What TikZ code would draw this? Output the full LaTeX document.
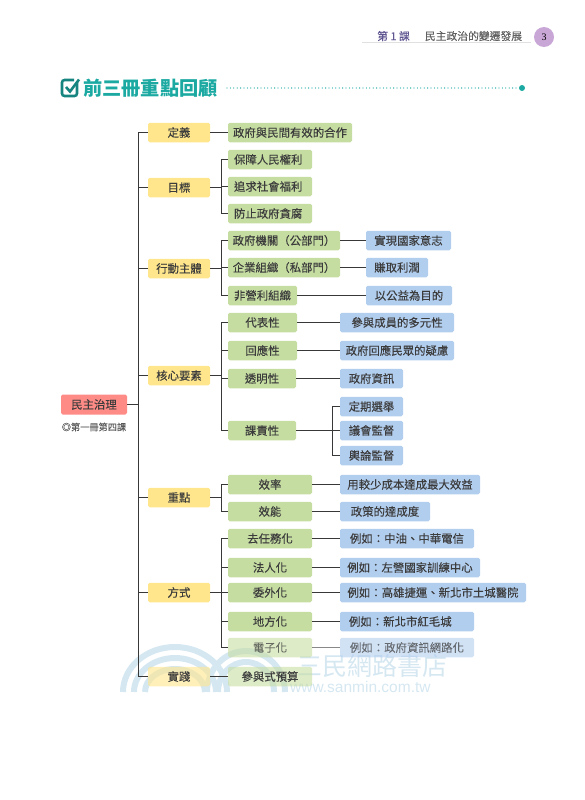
\documentclass[tikz,border=0pt]{standalone}
\usepackage{fontspec}
\setmainfont{Noto Sans CJK TC}[FakeBold=0.12]
\newfontfamily\plainface{Noto Sans CJK TC}
\definecolor{ye}{HTML}{FFE68C}
\definecolor{gr}{HTML}{C6DDA2}
\definecolor{bl}{HTML}{B2CEEF}
\definecolor{re}{HTML}{FF8B87}
\definecolor{ink}{HTML}{3C3C3C}
\definecolor{teal1}{HTML}{1BA9A2}
\definecolor{teal2}{HTML}{17857F}
\definecolor{wm}{HTML}{D5E7F1}
\definecolor{hdp}{HTML}{5F5590}
\definecolor{pgc}{HTML}{C8A6D6}
\tikzset{
  x=1pt,y=-1pt,
  bx/.style={inner sep=0pt,minimum height=19.5pt,rounded corners=1.6pt,text=ink,font=\fontsize{11.4}{13}\selectfont},
  yb/.style={bx,fill=ye,minimum width=62pt},
  gb/.style={bx,fill=gr},
  bb/.style={bx,fill=bl},
  ln/.style={draw=black!78,line width=1.4pt},
  faded/.style={fill opacity=.6,text opacity=.65},
  veil/.style={fill opacity=.6,text opacity=1}
}
\begin{document}
\begin{tikzpicture}
\useasboundingbox (0,0) rectangle (584,800);
% header
\node[font=\fontsize{10.8}{12}\selectfont,text=hdp] (ke) at (393.5,36) {第 1 課};
\node[font=\fontsize{10.8}{12}\selectfont,text=black!62] (kt) at (473.5,36) {民主政治的變遷發展};
\coordinate (hl) at (362,42.5); \coordinate (hr) at (531,42.5);
\draw[black!12,line width=.6pt] (hl)--(hr);
\node[circle,fill=pgc,minimum size=20pt,inner sep=0pt,font=\fontsize{10}{12}\selectfont] (pg) at (544,37) {\fontspec{Liberation Serif}3};
% title
\node[anchor=west,inner sep=0pt,text=teal1,font=\plainface\fontsize{19.2}{22}\bfseries\selectfont] (ttl) at (83,88) {前三冊重點回顧};
\draw[teal2,line width=2.6pt,rounded corners=2.5pt] (77,82) -- (77,96) -- (62,96) -- (62,80) -- (74,80);
\draw[teal2,line width=2.6pt] (66,87) -- (70,91.5) -- (79,79.5);
\coordinate (ds) at (227,88);
\node[circle,fill=teal1,minimum size=6pt,inner sep=0pt] (de) at (522,88) {};
\draw[teal1,line width=1.3pt,line cap=round,dash pattern=on 0pt off 3.4pt] (ds)--(de);
% watermark
\begin{scope}[wm,line width=6pt]
\draw (123,692) arc[start angle=180,end angle=0,x radius=52,y radius=-45];
\draw (134,692) arc[start angle=180,end angle=0,x radius=41,y radius=-34];
\draw (145,692) arc[start angle=180,end angle=0,x radius=30,y radius=-23];
\draw (207,692) arc[start angle=180,end angle=0,x radius=39,y radius=-41];
\draw (218,692) arc[start angle=180,end angle=0,x radius=28,y radius=-30];
\end{scope}
\node[anchor=west,inner sep=0pt,text=wm,font=\plainface\fontsize{25}{28}\selectfont] (wt) at (297,666) {三民網路書店};
\node[anchor=west,inner sep=0pt,text=wm,font=\fontsize{15.5}{18}\selectfont\fontspec{Liberation Sans}] (wu) at (290,687) {www.sanmin.com.tw};
% root
\node[bx,fill=re,minimum width=66pt,minimum height=20pt] (root) at (94,404.5) {民主治理};
\node[text=black!65,inner sep=0pt,font=\fontsize{9.2}{11}\selectfont] (rootn) at (94,427) {◎第一冊第四課};
% categories
\node[yb] (c1) at (179,132.5) {定義};
\node[yb] (c2) at (179,187.5) {目標};
\node[yb] (c3) at (179,268.5) {行動主體};
\node[yb] (c4) at (179,375.5) {核心要素};
\node[yb] (c5) at (179,497.5) {重點};
\node[yb] (c6) at (179,592.5) {方式};
% level 2
\node[gb,minimum width=124pt] (a1) at (290,132.5) {政府與民間有效的合作};
\node[gb,minimum width=84pt,inner xsep=6pt,text width=72pt,align=left] (b1) at (270,159.5) {保障人民權利};
\node[gb,minimum width=84pt,inner xsep=6pt,text width=72pt,align=left] (b2) at (270,186.5) {追求社會福利};
\node[gb,minimum width=84pt,inner xsep=6pt,text width=72pt,align=left] (b3) at (270,213.5) {防止政府貪腐};
\node[gb,minimum width=112pt] (d1) at (284,240.5) {政府機關（公部門）};
\node[gb,minimum width=112pt] (d2) at (284,267.5) {企業組織（私部門）};
\node[gb,minimum width=69pt] (d3) at (262.5,295.5) {非營利組織};
\node[bb,minimum width=85pt] (e1) at (408.5,240.5) {實現國家意志};
\node[bb,minimum width=62pt] (e2) at (397,267.5) {賺取利潤};
\node[bb,minimum width=86pt] (e3) at (409,295.5) {以公益為目的};
\node[gb,minimum width=69pt] (f1) at (262.5,322.5) {代表性};
\node[gb,minimum width=69pt] (f2) at (262.5,350.5) {回應性};
\node[gb,minimum width=68pt] (f3) at (262,378.5) {透明性};
\node[gb,minimum width=68pt] (f4) at (262,430.5) {課責性};
\node[bb,minimum width=114pt] (g1) at (397,322.5) {參與成員的多元性};
\node[bb,minimum width=114pt] (g2) at (397,350.5) {政府回應民眾的疑慮};
\node[bb,minimum width=63pt] (g3) at (371.5,378.5) {政府資訊};
\node[bb,minimum width=63pt] (h1) at (371.5,406.5) {定期選舉};
\node[bb,minimum width=63pt] (h2) at (371.5,430.5) {議會監督};
\node[bb,minimum width=63pt] (h3) at (371.5,455.5) {輿論監督};
\node[gb,minimum width=84pt] (i1) at (270,484.5) {效率};
\node[gb,minimum width=84pt] (i2) at (270,511.5) {效能};
\node[bb,minimum width=140pt] (k1) at (410,484.5) {用較少成本達成最大效益};
\node[bb,minimum width=90pt] (k2) at (385,511.5) {政策的達成度};
\node[gb,minimum width=84pt] (m1) at (270,538.5) {去任務化};
\node[gb,minimum width=84pt] (m2) at (270,567.5) {法人化};
\node[gb,minimum width=84pt] (m3) at (270,592.5) {委外化};
\node[gb,minimum width=84pt] (m4) at (270,621.5) {地方化};
\node[bb,minimum width=134pt] (n1) at (407,538.5) {例如：中油、中華電信};
\node[bb,minimum width=140pt] (n2) at (410,567.5) {例如：左營國家訓練中心};
\node[bb,minimum width=186pt] (n3) at (433,592.5) {例如：高雄捷運、新北市土城醫院};
\node[bb,minimum width=134pt,inner xsep=9pt,text width=116pt,align=left] (n4) at (407,621.5) {例如：新北市紅毛城};
\node[gb,faded,minimum width=84pt] (m5) at (270,647.5) {電子化};
\node[bb,faded,minimum width=134pt] (n5) at (407,647.5) {例如：政府資訊網路化};
\node[yb,veil] (c7) at (179,676.5) {實踐};
\node[gb,veil,minimum width=84pt] (m6) at (270,676.5) {參與式預算};
% junctions
\coordinate (t) at (138.5,404.5);
\coordinate (j2) at (221.5,187.5);
\coordinate (j3) at (221.5,268.5);
\coordinate (j4) at (221.5,375.5);
\coordinate (j5) at (221.5,497.5);
\coordinate (j6) at (221.5,592.5);
\coordinate (j8) at (332.5,430.5);
% connectors
\draw[ln] (root.east)--(t);
\foreach \c in {c1,c2,c3,c4,c5,c6,c7} {\draw[ln] (t) |- (\c.west);}
\draw[ln] (c1.east)--(a1.west);
\draw[ln] (c2.east)--(j2);
\foreach \c in {b1,b2,b3} {\draw[ln] (j2) |- (\c.west);}
\draw[ln] (c3.east)--(j3);
\foreach \c in {d1,d2,d3} {\draw[ln] (j3) |- (\c.west);}
\draw[ln] (d1.east)--(e1.west);
\draw[ln] (d2.east)--(e2.west);
\draw[ln] (d3.east)--(e3.west);
\draw[ln] (c4.east)--(j4);
\foreach \c in {f1,f2,f3,f4} {\draw[ln] (j4) |- (\c.west);}
\draw[ln] (f1.east)--(g1.west);
\draw[ln] (f2.east)--(g2.west);
\draw[ln] (f3.east)--(g3.west);
\draw[ln] (f4.east)--(j8);
\foreach \c in {h1,h2,h3} {\draw[ln] (j8) |- (\c.west);}
\draw[ln] (c5.east)--(j5);
\foreach \c in {i1,i2} {\draw[ln] (j5) |- (\c.west);}
\draw[ln] (i1.east)--(k1.west);
\draw[ln] (i2.east)--(k2.west);
\draw[ln] (c6.east)--(j6);
\foreach \c in {m1,m2,m3,m4,m5} {\draw[ln] (j6) |- (\c.west);}
\draw[ln] (m1.east)--(n1.west);
\draw[ln] (m2.east)--(n2.west);
\draw[ln] (m3.east)--(n3.west);
\draw[ln] (m4.east)--(n4.west);
\draw[ln,opacity=.6] (m5.east)--(n5.west);
\draw[ln] (c7.east)--(m6.west);
\end{tikzpicture}
\end{document}
